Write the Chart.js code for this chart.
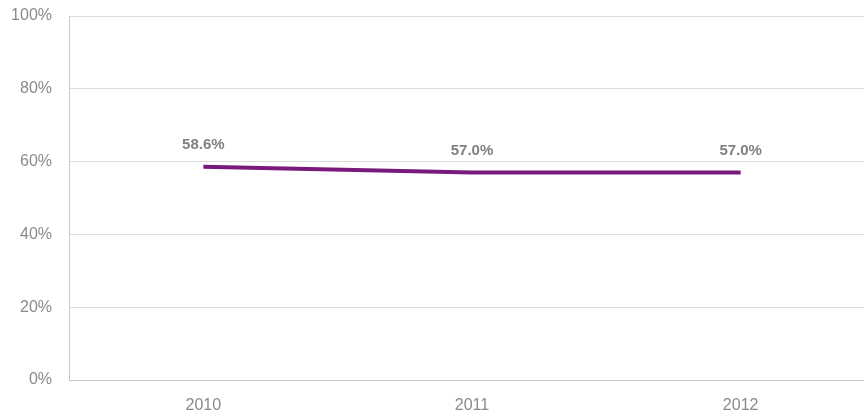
<!DOCTYPE html>
<html>
<head>
<meta charset="utf-8">
<script src="https://cdn.jsdelivr.net/npm/chart.js@4"></script>
<style>
  html, body { margin: 0; padding: 0; background: #fff; overflow: hidden; }
  #wrap { width: 875px; height: 415px; position: relative; }
</style>
</head>
<body>
<div id="wrap"><canvas id="rateChart"></canvas></div>
<script>
const years = ['2010', '2011', '2012'];
const rates = [58.6, 57.0, 57.0];
const yTicks = [0, 20, 40, 60, 80, 100];

const tickColor = '#8a8a8a';
const fontFamily = '"Liberation Sans", Arial, sans-serif';

// writes the value above each point of the line
const valueLabels = {
    id: 'valueLabels',
    afterDatasetsDraw(chart) {
        const ctx = chart.ctx;
        const meta = chart.getDatasetMeta(0);
        ctx.save();
        ctx.font = 'bold 15px ' + fontFamily;
        ctx.fillStyle = '#808080';
        ctx.textAlign = 'center';
        ctx.textBaseline = 'middle';
        meta.data.forEach((pt, i) => {
            ctx.fillText(rates[i].toFixed(1) + '%', pt.x, pt.y - 22);
        });
        ctx.restore();
    }
};

new Chart(document.getElementById('rateChart'), {
    type: 'line',
    data: {
        labels: years,
        datasets: [{
            data: rates,
            borderColor: '#7b1a7d',
            borderWidth: 4,
            pointRadius: 0,
            tension: 0,
            fill: false
        }]
    },
    options: {
        responsive: true,
        maintainAspectRatio: false,
        animation: false,
        layout: { padding: { top: 16, left: 0, right: 0, bottom: 0 } },
        plugins: {
            legend: { display: false },
            tooltip: { enabled: false }
        },
        scales: {
            x: {
                offset: true,
                grid: { display: false, drawTicks: false },
                border: { color: '#c8c8c8', width: 1 },
                ticks: {
                    color: tickColor,
                    font: { family: fontFamily, size: 16 },
                    padding: 16
                },
                afterFit: s => { s.height = 35; s.paddingLeft = 0; s.paddingRight = 0; }
            },
            y: {
                min: 0,
                max: 100,
                afterBuildTicks: s => { s.ticks = yTicks.map(v => ({ value: v })); },
                grid: { color: '#dcdcdc', lineWidth: 1, drawTicks: false },
                border: { color: '#c8c8c8', width: 1 },
                ticks: {
                    color: tickColor,
                    font: { family: fontFamily, size: 16 },
                    padding: 17,
                    callback: v => v + '%'
                },
                afterFit: s => { s.width = 69; s.paddingTop = 0; s.paddingBottom = 0; }
            }
        }
    },
    plugins: [valueLabels]
});
</script>
</body>
</html>
